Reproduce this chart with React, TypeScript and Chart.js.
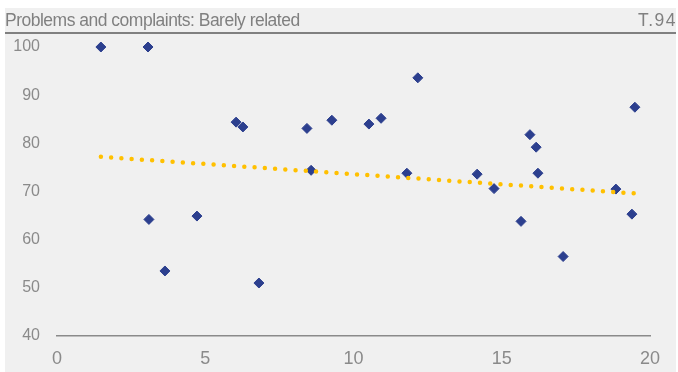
import React, { useEffect, useRef } from "react";
import { Chart, registerables } from "chart.js";

Chart.register(...registerables);

const titleText = "Problems and complaints: Barely related";
const tableId = "T.94";

const pointX = [1.48, 3.07, 3.1, 3.64, 4.72, 6.04, 6.27, 6.81, 8.43, 8.57, 9.27, 10.52, 10.93, 11.8, 12.17, 14.17, 14.74, 15.65, 15.95, 16.16, 16.22, 17.07, 18.85, 19.39, 19.49];
const pointY = [100, 100, 64.2, 53.5, 64.9, 84.4, 83.4, 51.0, 83.1, 74.4, 84.8, 84.0, 85.2, 73.8, 93.6, 73.6, 70.6, 63.8, 81.8, 79.2, 73.8, 56.5, 70.5, 65.3, 87.5];

const trendX = [1.48, 19.49];
const trendY = [77.2, 69.6];

const xMin = 0, xMax = 20, xStep = 5;
const yMin = 40, yMax = 100, yStep = 10;

export default function App() {
  const ref = useRef<HTMLCanvasElement>(null);
  useEffect(() => {
    document.body.style.margin = "0";
    const ctx = ref.current!;
    const chart = new Chart(ctx, {
      type: "scatter",
      data: {
        datasets: [
          {
            type: "scatter",
            data: pointX.map((x, i) => ({ x, y: pointY[i] })),
            pointStyle: "rectRot",
            pointRadius: 5,
            pointBackgroundColor: "#2C3F8E",
            pointBorderColor: "#2C3F8E",
            pointBorderWidth: 1,
            clip: false,
            order: 1,
          },
          {
            type: "line",
            data: trendX.map((x, i) => ({ x, y: trendY[i] })),
            borderColor: "#FFC000",
            borderWidth: 4.5,
            borderCapStyle: "round",
            borderDash: [0, 10.27],
            pointRadius: 0,
            fill: false,
            clip: false,
            order: 0,
          } as any,
        ],
      },
      options: {
        animation: false,
        responsive: false,
        maintainAspectRatio: false,
        layout: { padding: { left: 0, right: 26, top: 39, bottom: 0 } },
        plugins: { legend: { display: false }, tooltip: { enabled: false } },
        scales: {
          x: {
            type: "linear",
            min: xMin,
            max: xMax,
            afterFit: (s: any) => { s.height = 36; },
            grid: { display: false, drawTicks: false },
            border: { display: true, color: "#8a8a8a", width: 1.5 },
            ticks: { stepSize: xStep, color: "#8a8a8a", padding: 12, font: { family: "Liberation Sans", size: 18 } },
          },
          y: {
            type: "linear",
            min: yMin,
            max: yMax,
            afterFit: (s: any) => { s.width = 52; },
            grid: { display: false, drawTicks: false },
            border: { display: false },
            ticks: { stepSize: yStep, color: "#8a8a8a", padding: 17, font: { family: "Liberation Sans", size: 16 } },
          },
        },
      },
    });
    return () => chart.destroy();
  }, []);

  return (
    <div style={{ position: "absolute", left: 5, top: 8, width: 671, height: 364, background: "#f0f0f0" }}>
      <canvas ref={ref} width={671} height={364} style={{ position: "absolute", left: 0, top: 0 }} />
      <div
        style={{
          position: "absolute",
          left: 0,
          top: 0,
          width: 671,
          height: 24,
          borderBottom: "2px solid #808080",
          display: "flex",
          justifyContent: "space-between",
          fontFamily: "Liberation Sans",
          fontSize: 17.5,
          lineHeight: "24px",
          color: "#808080",
          whiteSpace: "nowrap",
        }}
      >
        <span style={{ letterSpacing: "-0.5px" }}>{titleText}</span>
        <span style={{ letterSpacing: "1.5px", marginRight: -1 }}>{tableId}</span>
      </div>
    </div>
  );
}
